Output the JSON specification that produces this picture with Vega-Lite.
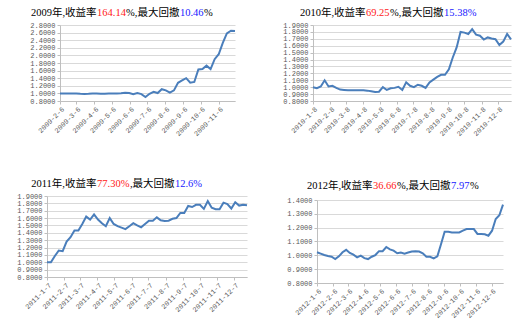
{
  "$schema": "https://vega.github.io/schema/vega-lite/v6.json",
  "background": "white",
  "padding": {"left": 5, "top": 5, "right": 3, "bottom": 2},
  "spacing": 39,
  "config": {
    "view": {"stroke": null},
    "axis": {"labelFont": "Liberation Mono", "labelFontSize": 7, "labelColor": "#595959", "domainColor": "#bfbfbf", "tickColor": "#bfbfbf", "tickSize": 3, "gridColor": "#d9d9d9", "gridWidth": 1, "labelOverlap": false},
    "text": {"font": "Liberation Serif, Noto Sans CJK SC", "fontSize": 10.5, "align": "center", "baseline": "middle"},
    "line": {"color": "#4a7ebb", "strokeWidth": 2}
  },
  "vconcat": [
    {
      "spacing": 20,
      "hconcat": [
        {
          "bounds": "flush",
          "spacing": 20,
          "vconcat": [
            {
              "bounds": "flush",
              "spacing": 0,
              "hconcat": [
                {"width": 65.6, "height": 16, "data": {"values": [{"t": "2009年,收益率"}]}, "mark": {"type": "text", "color": "#000000"}, "encoding": {"text": {"field": "t", "type": "nominal"}}},
                {"width": 28.9, "height": 16, "data": {"values": [{"t": "164.14"}]}, "mark": {"type": "text", "color": "#ff2020"}, "encoding": {"text": {"field": "t", "type": "nominal"}}},
                {"width": 53.4, "height": 16, "data": {"values": [{"t": "%,最大回撤"}]}, "mark": {"type": "text", "color": "#000000"}, "encoding": {"text": {"field": "t", "type": "nominal"}}},
                {"width": 23.6, "height": 16, "data": {"values": [{"t": "10.46"}]}, "mark": {"type": "text", "color": "#2020ff"}, "encoding": {"text": {"field": "t", "type": "nominal"}}},
                {"width": 8.75, "height": 16, "data": {"values": [{"t": "%"}]}, "mark": {"type": "text", "color": "#000000"}, "encoding": {"text": {"field": "t", "type": "nominal"}}}
              ]
            },
            {
              "bounds": "flush",
              "spacing": 0,
              "hconcat": [
                {"width": 29, "height": 1, "data": {"values": []}, "mark": {"type": "text"}, "encoding": {}},
                {
                  "width": 175,
                  "height": 76,
                  "data": {"values": [
                    {"d": "2009-02-06", "v": 1.0}, {"d": "2009-02-13", "v": 1.0}, {"d": "2009-02-20", "v": 1.0}, {"d": "2009-02-27", "v": 0.995},
                    {"d": "2009-03-06", "v": 1.0}, {"d": "2009-03-13", "v": 0.99}, {"d": "2009-03-20", "v": 0.985}, {"d": "2009-03-27", "v": 0.99},
                    {"d": "2009-04-03", "v": 1.0}, {"d": "2009-04-10", "v": 0.995}, {"d": "2009-04-17", "v": 0.99}, {"d": "2009-04-24", "v": 0.99},
                    {"d": "2009-05-01", "v": 0.995}, {"d": "2009-05-08", "v": 1.0}, {"d": "2009-05-15", "v": 1.0}, {"d": "2009-05-22", "v": 1.005},
                    {"d": "2009-05-29", "v": 1.02}, {"d": "2009-06-05", "v": 1.01}, {"d": "2009-06-12", "v": 0.98}, {"d": "2009-06-19", "v": 1.01},
                    {"d": "2009-06-26", "v": 0.98}, {"d": "2009-07-03", "v": 0.905}, {"d": "2009-07-10", "v": 0.99}, {"d": "2009-07-17", "v": 1.04},
                    {"d": "2009-07-24", "v": 1.01}, {"d": "2009-07-31", "v": 1.11}, {"d": "2009-08-07", "v": 1.08}, {"d": "2009-08-14", "v": 1.02},
                    {"d": "2009-08-21", "v": 1.08}, {"d": "2009-08-28", "v": 1.28}, {"d": "2009-09-04", "v": 1.34}, {"d": "2009-09-11", "v": 1.40},
                    {"d": "2009-09-18", "v": 1.28}, {"d": "2009-09-25", "v": 1.30}, {"d": "2009-10-02", "v": 1.63}, {"d": "2009-10-09", "v": 1.64},
                    {"d": "2009-10-16", "v": 1.73}, {"d": "2009-10-23", "v": 1.64}, {"d": "2009-10-30", "v": 1.90}, {"d": "2009-11-06", "v": 2.03},
                    {"d": "2009-11-13", "v": 2.33}, {"d": "2009-11-20", "v": 2.58}, {"d": "2009-11-27", "v": 2.65}, {"d": "2009-12-04", "v": 2.6414}
                  ]},
                  "mark": {"type": "line"},
                  "encoding": {
                    "x": {"field": "d", "type": "temporal", "title": null,
                      "scale": {"type": "utc", "domain": [{"year": 2009, "month": 2, "date": 6, "utc": true}, {"year": 2009, "month": 12, "date": 4, "utc": true}]},
                      "axis": {"grid": false, "labelAngle": -45, "labelOverlap": false, "labelFlush": false, "labelPadding": 1,
                        "labelExpr": "utcFormat(datum.value, '%Y-%-m-%-d')",
                        "values": [{"year": 2009, "month": 2, "date": 6, "utc": true}, {"year": 2009, "month": 3, "date": 6, "utc": true}, {"year": 2009, "month": 4, "date": 6, "utc": true}, {"year": 2009, "month": 5, "date": 6, "utc": true}, {"year": 2009, "month": 6, "date": 6, "utc": true}, {"year": 2009, "month": 7, "date": 6, "utc": true}, {"year": 2009, "month": 8, "date": 6, "utc": true}, {"year": 2009, "month": 9, "date": 6, "utc": true}, {"year": 2009, "month": 10, "date": 6, "utc": true}, {"year": 2009, "month": 11, "date": 6, "utc": true}]}},
                    "y": {"field": "v", "type": "quantitative", "title": null,
                      "scale": {"domain": [0.8, 2.8], "nice": false, "zero": false},
                      "axis": {"grid": true, "format": ".4f", "labelPadding": 2, "labelOverlap": false, "minExtent": 52, "values": [0.8, 1.0, 1.2, 1.4, 1.6, 1.8, 2.0, 2.2, 2.4, 2.6, 2.8]}}
                  }
                }
              ]
            }
          ]
        },
        {
          "bounds": "flush",
          "spacing": 20,
          "vconcat": [
            {
              "bounds": "flush",
              "spacing": 0,
              "hconcat": [
                {"width": 65.6, "height": 16, "data": {"values": [{"t": "2010年,收益率"}]}, "mark": {"type": "text", "color": "#000000"}, "encoding": {"text": {"field": "t", "type": "nominal"}}},
                {"width": 23.6, "height": 16, "data": {"values": [{"t": "69.25"}]}, "mark": {"type": "text", "color": "#ff2020"}, "encoding": {"text": {"field": "t", "type": "nominal"}}},
                {"width": 53.4, "height": 16, "data": {"values": [{"t": "%,最大回撤"}]}, "mark": {"type": "text", "color": "#000000"}, "encoding": {"text": {"field": "t", "type": "nominal"}}},
                {"width": 32.4, "height": 16, "data": {"values": [{"t": "15.38%"}]}, "mark": {"type": "text", "color": "#2020ff"}, "encoding": {"text": {"field": "t", "type": "nominal"}}}
              ]
            },
            {
              "bounds": "flush",
              "spacing": 0,
              "hconcat": [
                {"width": 13, "height": 1, "data": {"values": []}, "mark": {"type": "text"}, "encoding": {}},
                {
                  "width": 198,
                  "height": 76,
                  "data": {"values": [
                    {"d": "2010-01-08", "v": 1.0}, {"d": "2010-01-15", "v": 0.985}, {"d": "2010-01-22", "v": 1.01}, {"d": "2010-01-29", "v": 1.10},
                    {"d": "2010-02-05", "v": 1.01}, {"d": "2010-02-12", "v": 1.02}, {"d": "2010-02-19", "v": 0.99}, {"d": "2010-02-26", "v": 0.965},
                    {"d": "2010-03-05", "v": 0.96}, {"d": "2010-03-12", "v": 0.955}, {"d": "2010-03-19", "v": 0.955}, {"d": "2010-03-26", "v": 0.955},
                    {"d": "2010-04-02", "v": 0.955}, {"d": "2010-04-09", "v": 0.955}, {"d": "2010-04-16", "v": 0.95}, {"d": "2010-04-23", "v": 0.94},
                    {"d": "2010-04-30", "v": 0.93}, {"d": "2010-05-07", "v": 0.935}, {"d": "2010-05-14", "v": 1.0}, {"d": "2010-05-21", "v": 0.96},
                    {"d": "2010-05-28", "v": 0.985}, {"d": "2010-06-04", "v": 0.99}, {"d": "2010-06-11", "v": 1.005}, {"d": "2010-06-18", "v": 0.96},
                    {"d": "2010-06-25", "v": 1.07}, {"d": "2010-07-02", "v": 1.02}, {"d": "2010-07-09", "v": 1.0}, {"d": "2010-07-16", "v": 1.035},
                    {"d": "2010-07-23", "v": 1.02}, {"d": "2010-07-30", "v": 0.99}, {"d": "2010-08-06", "v": 1.07}, {"d": "2010-08-13", "v": 1.11},
                    {"d": "2010-08-20", "v": 1.15}, {"d": "2010-08-27", "v": 1.18}, {"d": "2010-09-03", "v": 1.18}, {"d": "2010-09-10", "v": 1.26},
                    {"d": "2010-09-17", "v": 1.43}, {"d": "2010-09-24", "v": 1.575}, {"d": "2010-10-01", "v": 1.80}, {"d": "2010-10-08", "v": 1.79},
                    {"d": "2010-10-15", "v": 1.77}, {"d": "2010-10-22", "v": 1.84}, {"d": "2010-10-29", "v": 1.76}, {"d": "2010-11-05", "v": 1.745},
                    {"d": "2010-11-12", "v": 1.69}, {"d": "2010-11-19", "v": 1.72}, {"d": "2010-11-26", "v": 1.705}, {"d": "2010-12-03", "v": 1.695},
                    {"d": "2010-12-10", "v": 1.61}, {"d": "2010-12-17", "v": 1.66}, {"d": "2010-12-24", "v": 1.77}, {"d": "2010-12-31", "v": 1.6925}
                  ]},
                  "mark": {"type": "line"},
                  "encoding": {
                    "x": {"field": "d", "type": "temporal", "title": null,
                      "scale": {"type": "utc", "domain": [{"year": 2010, "month": 1, "date": 8, "utc": true}, {"year": 2010, "month": 12, "date": 31, "utc": true}]},
                      "axis": {"grid": false, "labelAngle": -45, "labelOverlap": false, "labelFlush": false, "labelPadding": 1,
                        "labelExpr": "utcFormat(datum.value, '%Y-%-m-%-d')",
                        "values": [{"year": 2010, "month": 1, "date": 8, "utc": true}, {"year": 2010, "month": 2, "date": 8, "utc": true}, {"year": 2010, "month": 3, "date": 8, "utc": true}, {"year": 2010, "month": 4, "date": 8, "utc": true}, {"year": 2010, "month": 5, "date": 8, "utc": true}, {"year": 2010, "month": 6, "date": 8, "utc": true}, {"year": 2010, "month": 7, "date": 8, "utc": true}, {"year": 2010, "month": 8, "date": 8, "utc": true}, {"year": 2010, "month": 9, "date": 8, "utc": true}, {"year": 2010, "month": 10, "date": 8, "utc": true}, {"year": 2010, "month": 11, "date": 8, "utc": true}, {"year": 2010, "month": 12, "date": 8, "utc": true}]}},
                    "y": {"field": "v", "type": "quantitative", "title": null,
                      "scale": {"domain": [0.8, 1.9], "nice": false, "zero": false},
                      "axis": {"grid": true, "format": ".4f", "labelPadding": 2, "labelOverlap": false, "minExtent": 54, "values": [0.8, 0.9, 1.0, 1.1, 1.2, 1.3, 1.4, 1.5, 1.6, 1.7, 1.8, 1.9]}}
                  }
                }
              ]
            }
          ]
        }
      ]
    },
    {
      "spacing": 20,
      "hconcat": [
        {
          "bounds": "flush",
          "spacing": 20,
          "vconcat": [
            {
              "bounds": "flush",
              "spacing": 0,
              "hconcat": [
                {"width": 65.6, "height": 16, "data": {"values": [{"t": "2011年,收益率"}]}, "mark": {"type": "text", "color": "#000000"}, "encoding": {"text": {"field": "t", "type": "nominal"}}},
                {"width": 32.4, "height": 16, "data": {"values": [{"t": "77.30%"}]}, "mark": {"type": "text", "color": "#ff2020"}, "encoding": {"text": {"field": "t", "type": "nominal"}}},
                {"width": 44.6, "height": 16, "data": {"values": [{"t": ",最大回撤"}]}, "mark": {"type": "text", "color": "#000000"}, "encoding": {"text": {"field": "t", "type": "nominal"}}},
                {"width": 27.1, "height": 16, "data": {"values": [{"t": "12.6%"}]}, "mark": {"type": "text", "color": "#2020ff"}, "encoding": {"text": {"field": "t", "type": "nominal"}}}
              ]
            },
            {
              "bounds": "flush",
              "spacing": 0,
              "hconcat": [
                {"width": 16, "height": 1, "data": {"values": []}, "mark": {"type": "text"}, "encoding": {}},
                {
                  "width": 200,
                  "height": 81,
                  "data": {"values": [
                    {"d": "2011-01-07", "v": 1.0}, {"d": "2011-01-14", "v": 1.0}, {"d": "2011-01-21", "v": 1.085}, {"d": "2011-01-28", "v": 1.16},
                    {"d": "2011-02-04", "v": 1.15}, {"d": "2011-02-11", "v": 1.28}, {"d": "2011-02-18", "v": 1.34}, {"d": "2011-02-25", "v": 1.43},
                    {"d": "2011-03-04", "v": 1.43}, {"d": "2011-03-11", "v": 1.52}, {"d": "2011-03-18", "v": 1.62}, {"d": "2011-03-25", "v": 1.58},
                    {"d": "2011-04-01", "v": 1.65}, {"d": "2011-04-08", "v": 1.58}, {"d": "2011-04-15", "v": 1.53}, {"d": "2011-04-22", "v": 1.49},
                    {"d": "2011-04-29", "v": 1.60}, {"d": "2011-05-06", "v": 1.52}, {"d": "2011-05-13", "v": 1.49}, {"d": "2011-05-20", "v": 1.47},
                    {"d": "2011-05-27", "v": 1.45}, {"d": "2011-06-03", "v": 1.49}, {"d": "2011-06-10", "v": 1.53}, {"d": "2011-06-17", "v": 1.50},
                    {"d": "2011-06-24", "v": 1.475}, {"d": "2011-07-01", "v": 1.52}, {"d": "2011-07-08", "v": 1.565}, {"d": "2011-07-15", "v": 1.565},
                    {"d": "2011-07-22", "v": 1.61}, {"d": "2011-07-29", "v": 1.57}, {"d": "2011-08-05", "v": 1.56}, {"d": "2011-08-12", "v": 1.565},
                    {"d": "2011-08-19", "v": 1.59}, {"d": "2011-08-26", "v": 1.60}, {"d": "2011-09-02", "v": 1.67}, {"d": "2011-09-09", "v": 1.67},
                    {"d": "2011-09-16", "v": 1.765}, {"d": "2011-09-23", "v": 1.75}, {"d": "2011-09-30", "v": 1.78}, {"d": "2011-10-07", "v": 1.78},
                    {"d": "2011-10-14", "v": 1.725}, {"d": "2011-10-21", "v": 1.83}, {"d": "2011-10-28", "v": 1.74}, {"d": "2011-11-04", "v": 1.72},
                    {"d": "2011-11-11", "v": 1.72}, {"d": "2011-11-18", "v": 1.81}, {"d": "2011-11-25", "v": 1.79}, {"d": "2011-12-02", "v": 1.73},
                    {"d": "2011-12-09", "v": 1.815}, {"d": "2011-12-16", "v": 1.77}, {"d": "2011-12-23", "v": 1.78}, {"d": "2011-12-30", "v": 1.773}
                  ]},
                  "mark": {"type": "line"},
                  "encoding": {
                    "x": {"field": "d", "type": "temporal", "title": null,
                      "scale": {"type": "utc", "domain": [{"year": 2011, "month": 1, "date": 7, "utc": true}, {"year": 2011, "month": 12, "date": 30, "utc": true}]},
                      "axis": {"grid": false, "labelAngle": -45, "labelOverlap": false, "labelFlush": false, "labelPadding": 1,
                        "labelExpr": "utcFormat(datum.value, '%Y-%-m-%-d')",
                        "values": [{"year": 2011, "month": 1, "date": 7, "utc": true}, {"year": 2011, "month": 2, "date": 7, "utc": true}, {"year": 2011, "month": 3, "date": 7, "utc": true}, {"year": 2011, "month": 4, "date": 7, "utc": true}, {"year": 2011, "month": 5, "date": 7, "utc": true}, {"year": 2011, "month": 6, "date": 7, "utc": true}, {"year": 2011, "month": 7, "date": 7, "utc": true}, {"year": 2011, "month": 8, "date": 7, "utc": true}, {"year": 2011, "month": 9, "date": 7, "utc": true}, {"year": 2011, "month": 10, "date": 7, "utc": true}, {"year": 2011, "month": 11, "date": 7, "utc": true}, {"year": 2011, "month": 12, "date": 7, "utc": true}]}},
                    "y": {"field": "v", "type": "quantitative", "title": null,
                      "scale": {"domain": [0.8, 1.9], "nice": false, "zero": false},
                      "axis": {"grid": true, "format": ".4f", "labelPadding": 2, "labelOverlap": false, "minExtent": 42, "values": [0.8, 0.9, 1.0, 1.1, 1.2, 1.3, 1.4, 1.5, 1.6, 1.7, 1.8, 1.9]}}
                  }
                }
              ]
            }
          ]
        },
        {
          "bounds": "flush",
          "spacing": 24,
          "vconcat": [
            {
              "bounds": "flush",
              "spacing": 0,
              "hconcat": [
                {"width": 65.6, "height": 20, "data": {"values": [{"t": "2012年,收益率"}]}, "mark": {"type": "text", "color": "#000000"}, "encoding": {"text": {"field": "t", "type": "nominal"}}},
                {"width": 23.6, "height": 20, "data": {"values": [{"t": "36.66"}]}, "mark": {"type": "text", "color": "#ff2020"}, "encoding": {"text": {"field": "t", "type": "nominal"}}},
                {"width": 53.4, "height": 20, "data": {"values": [{"t": "%,最大回撤"}]}, "mark": {"type": "text", "color": "#000000"}, "encoding": {"text": {"field": "t", "type": "nominal"}}},
                {"width": 18.4, "height": 20, "data": {"values": [{"t": "7.97"}]}, "mark": {"type": "text", "color": "#2020ff"}, "encoding": {"text": {"field": "t", "type": "nominal"}}},
                {"width": 8.75, "height": 20, "data": {"values": [{"t": "%"}]}, "mark": {"type": "text", "color": "#000000"}, "encoding": {"text": {"field": "t", "type": "nominal"}}}
              ]
            },
            {
              "bounds": "flush",
              "spacing": 0,
              "hconcat": [
                {"width": 10, "height": 1, "data": {"values": []}, "mark": {"type": "text"}, "encoding": {}},
                {
                  "width": 186,
                  "height": 83,
                  "data": {"values": [
                    {"d": "2012-01-06", "v": 1.022}, {"d": "2012-01-13", "v": 1.012}, {"d": "2012-01-20", "v": 1.002}, {"d": "2012-01-27", "v": 0.995},
                    {"d": "2012-02-03", "v": 0.99}, {"d": "2012-02-10", "v": 0.973}, {"d": "2012-02-17", "v": 0.993}, {"d": "2012-02-24", "v": 1.022},
                    {"d": "2012-03-02", "v": 1.04}, {"d": "2012-03-09", "v": 1.017}, {"d": "2012-03-16", "v": 1.005}, {"d": "2012-03-23", "v": 0.985},
                    {"d": "2012-03-30", "v": 0.998}, {"d": "2012-04-06", "v": 0.98}, {"d": "2012-04-13", "v": 0.973}, {"d": "2012-04-20", "v": 0.99},
                    {"d": "2012-04-27", "v": 1.002}, {"d": "2012-05-04", "v": 1.03}, {"d": "2012-05-11", "v": 1.03}, {"d": "2012-05-18", "v": 1.06},
                    {"d": "2012-05-25", "v": 1.043}, {"d": "2012-06-01", "v": 1.034}, {"d": "2012-06-08", "v": 1.015}, {"d": "2012-06-15", "v": 1.02},
                    {"d": "2012-06-22", "v": 1.012}, {"d": "2012-06-29", "v": 1.02}, {"d": "2012-07-06", "v": 1.027}, {"d": "2012-07-13", "v": 1.03},
                    {"d": "2012-07-20", "v": 1.027}, {"d": "2012-07-27", "v": 1.015}, {"d": "2012-08-03", "v": 0.99}, {"d": "2012-08-10", "v": 0.99},
                    {"d": "2012-08-17", "v": 0.978}, {"d": "2012-08-24", "v": 0.993}, {"d": "2012-08-31", "v": 1.08}, {"d": "2012-09-07", "v": 1.17},
                    {"d": "2012-09-14", "v": 1.17}, {"d": "2012-09-21", "v": 1.165}, {"d": "2012-09-28", "v": 1.165}, {"d": "2012-10-05", "v": 1.165},
                    {"d": "2012-10-12", "v": 1.178}, {"d": "2012-10-19", "v": 1.19}, {"d": "2012-10-26", "v": 1.19}, {"d": "2012-11-02", "v": 1.19},
                    {"d": "2012-11-09", "v": 1.155}, {"d": "2012-11-16", "v": 1.155}, {"d": "2012-11-23", "v": 1.152}, {"d": "2012-11-30", "v": 1.142},
                    {"d": "2012-12-07", "v": 1.178}, {"d": "2012-12-14", "v": 1.263}, {"d": "2012-12-21", "v": 1.29}, {"d": "2012-12-28", "v": 1.3666}
                  ]},
                  "mark": {"type": "line"},
                  "encoding": {
                    "x": {"field": "d", "type": "temporal", "title": null,
                      "scale": {"type": "utc", "domain": [{"year": 2012, "month": 1, "date": 6, "utc": true}, {"year": 2012, "month": 12, "date": 28, "utc": true}]},
                      "axis": {"grid": false, "labelAngle": -45, "labelOverlap": false, "labelFlush": false, "labelPadding": 1,
                        "labelExpr": "utcFormat(datum.value, '%Y-%-m-%-d')",
                        "values": [{"year": 2012, "month": 1, "date": 6, "utc": true}, {"year": 2012, "month": 2, "date": 6, "utc": true}, {"year": 2012, "month": 3, "date": 6, "utc": true}, {"year": 2012, "month": 4, "date": 6, "utc": true}, {"year": 2012, "month": 5, "date": 6, "utc": true}, {"year": 2012, "month": 6, "date": 6, "utc": true}, {"year": 2012, "month": 7, "date": 6, "utc": true}, {"year": 2012, "month": 8, "date": 6, "utc": true}, {"year": 2012, "month": 9, "date": 6, "utc": true}, {"year": 2012, "month": 10, "date": 6, "utc": true}, {"year": 2012, "month": 11, "date": 6, "utc": true}, {"year": 2012, "month": 12, "date": 6, "utc": true}]}},
                    "y": {"field": "v", "type": "quantitative", "title": null,
                      "scale": {"domain": [0.8, 1.4], "nice": false, "zero": false},
                      "axis": {"grid": true, "format": ".4f", "labelPadding": 2, "labelOverlap": false, "minExtent": 46, "values": [0.8, 0.9, 1.0, 1.1, 1.2, 1.3, 1.4]}}
                  }
                }
              ]
            }
          ]
        }
      ]
    }
  ]
}
